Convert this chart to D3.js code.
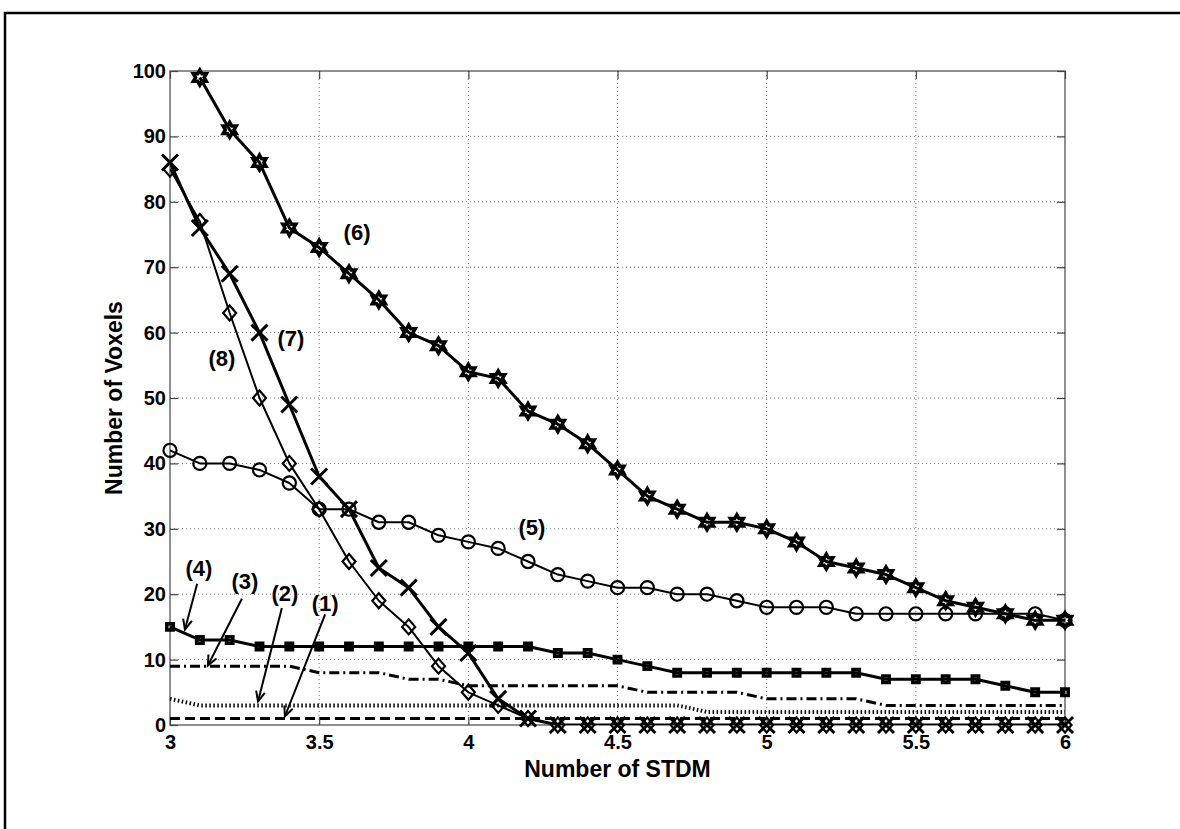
<!DOCTYPE html>
<html>
<head>
<meta charset="utf-8">
<title>Number of Voxels vs Number of STDM</title>
<style>
	body{
		margin:0;
		background:#fff;
	}
	svg text{
		font-family:"Liberation Sans", Arial, sans-serif;
		font-weight:bold;
	}
</style>
</head>
<body>
<div id="chart"></div>
<script src="https://d3js.org/d3.v7.min.js"></script>
<script type="text/javascript">

// x positions (number of STDM)
var stdm = [3.0,3.1,3.2,3.3,3.4,3.5,3.6,3.7,3.8,3.9,4.0,4.1,4.2,4.3,4.4,4.5,4.6,4.7,4.8,4.9,5.0,5.1,5.2,5.3,5.4,5.5,5.6,5.7,5.8,5.9,6.0];

// number of voxels per curve
var curve1 = [1,1,1,1,1,1,1,1,1,1,1,1,1,1,1,1,1,1,1,1,1,1,1,1,1,1,1,1,1,1,1];
var curve2 = [4,3,3,3,3,3,3,3,3,3,3,3,3,3,3,3,3,3,2,2,2,2,2,2,2,2,2,2,2,2,2];
var curve3 = [9,9,9,9,9,8,8,8,7,7,6,6,6,6,6,6,5,5,5,5,4,4,4,4,3,3,3,3,3,3,3];
var curve4 = [15,13,13,12,12,12,12,12,12,12,12,12,12,11,11,10,9,8,8,8,8,8,8,8,7,7,7,7,6,5,5];
var curve5 = [42,40,40,39,37,33,33,31,31,29,28,27,25,23,22,21,21,20,20,19,18,18,18,17,17,17,17,17,17,17,16];
var curve6 = [null,99,91,86,76,73,69,65,60,58,54,53,48,46,43,39,35,33,31,31,30,28,25,24,23,21,19,18,17,16,16];
var curve7 = [86,76,69,60,49,38,33,24,21,15,11,4,1,0,0,0,0,0,0,0,0,0,0,0,0,0,0,0,0,0,0];
var curve8 = [85,77,63,50,40,33,25,19,15,9,5,3,1,0,0,0,0,0,0,0,0,0,0,0,0,0,0,0,0,0,0];

var xTicks = [3,3.5,4,4.5,5,5.5,6];
var yTicks = [0,10,20,30,40,50,60,70,80,90,100];

// curve labels and arrows, in data units
var labels = [
	{t:'(1)', x:3.52, y:18.6},
	{t:'(2)', x:3.385, y:20.1},
	{t:'(3)', x:3.251, y:21.9},
	{t:'(4)', x:3.097, y:23.9},
	{t:'(5)', x:4.213, y:30.2},
	{t:'(6)', x:3.627, y:75.3},
	{t:'(7)', x:3.405, y:59.2},
	{t:'(8)', x:3.174, y:56.0}
];
var arrows = [
	{x1:3.52, y1:16.9, x2:3.385, y2:1.3},
	{x1:3.375, y1:17.9, x2:3.295, y2:3.6},
	{x1:3.241, y1:19.3, x2:3.127, y2:9.1},
	{x1:3.091, y1:21.6, x2:3.05, y2:14.6}
];

var W = 1180, H = 829,
	pLeft = 170, pRight = 1065, pTop = 71, pBottom = 725;

var x = d3.scaleLinear().domain([3,6]).range([pLeft,pRight]),
	y = d3.scaleLinear().domain([0,100]).range([pBottom,pTop]);

var svg = d3.select('#chart').append('svg').attr('width',W).attr('height',H);

// outer figure border (top and left only)
svg.append('path')
	.attr('d','M5,829 L5,13 L1180,13')
	.style('fill','none').style('stroke','#000').style('stroke-width',2.5);

svg.append('defs').append('clipPath').attr('id','plotclip')
	.append('rect').attr('x',pLeft).attr('y',pTop).attr('width',pRight-pLeft).attr('height',pBottom-pTop);

// grid
var grid = svg.append('g');
grid.selectAll('line.gx').data(xTicks.slice(1,-1)).enter().append('line')
	.attr('x1',function(d){return x(d);}).attr('x2',function(d){return x(d);})
	.attr('y1',pTop).attr('y2',pBottom)
	.style('stroke','#777').style('stroke-width',1).style('stroke-dasharray','1,3');
grid.selectAll('line.gy').data(yTicks.slice(1,-1)).enter().append('line')
	.attr('y1',function(d){return y(d);}).attr('y2',function(d){return y(d);})
	.attr('x1',pLeft).attr('x2',pRight)
	.style('stroke','#777').style('stroke-width',1).style('stroke-dasharray','1,3');

// axes, MATLAB style: ticks inside, box on
var axisColor = '#444';
function styleAxis(g, showText){
	g.select('.domain').remove();
	g.selectAll('.tick line').style('stroke',axisColor).style('stroke-width',1.2);
	g.selectAll('.tick text').style('font-size','20px').style('fill','#000');
	if(!showText) g.selectAll('.tick text').remove();
}
svg.append('g').attr('transform','translate(0,'+pBottom+')')
	.call(d3.axisBottom(x).tickValues(xTicks).tickFormat(d3.format('')).tickSizeInner(-8).tickPadding(10))
	.call(styleAxis,true);
svg.append('g').attr('transform','translate(0,'+pTop+')')
	.call(d3.axisTop(x).tickValues(xTicks).tickSizeInner(-8))
	.call(styleAxis,false);
svg.append('g').attr('transform','translate('+pLeft+',0)')
	.call(d3.axisLeft(y).tickValues(yTicks).tickSizeInner(-8).tickPadding(4))
	.call(styleAxis,true);
svg.append('g').attr('transform','translate('+pRight+',0)')
	.call(d3.axisRight(y).tickValues(yTicks).tickSizeInner(-8))
	.call(styleAxis,false);
svg.append('rect').attr('x',pLeft).attr('y',pTop).attr('width',pRight-pLeft).attr('height',pBottom-pTop)
	.style('fill','none').style('stroke',axisColor).style('stroke-width',1.2);

// axis titles
svg.append('text').attr('x',(pLeft+pRight)/2).attr('y',777).attr('text-anchor','middle')
	.style('font-size','23px').text('Number of STDM');
svg.append('text').attr('transform','translate(122,'+((pTop+pBottom)/2)+') rotate(-90)').attr('text-anchor','middle')
	.style('font-size','23px').text('Number of Voxels');

// markers
function hexagram(r){
	var p = [];
	for(var i=0;i<12;i++){
		var a = -Math.PI/2 + i*Math.PI/6, rr = i%2 ? r/Math.sqrt(3) : r;
		p.push([rr*Math.cos(a), rr*Math.sin(a)]);
	}
	return 'M'+p.join('L')+'Z';
}
var markers = {
	square: 'M-3.2,-3.2L3.2,-3.2L3.2,3.2L-3.2,3.2Z',
	circle: d3.symbol(d3.symbolCircle, 135)(),
	star: hexagram(7.5),
	cross: 'M-8,-8L8,8M-8,8L8,-8',
	diamond: 'M0,-7.5L6.5,0L0,7.5L-6.5,0Z'
};

var series = [
	{v:curve1, w:3, dash:'10,5'},
	{v:curve2, w:4, dash:'1.5,2.5'},
	{v:curve3, w:3, dash:'10,4,2,4'},
	{v:curve4, w:3, mark:'square', mw:3.5},
	{v:curve5, w:2, mark:'circle', mw:2.2},
	{v:curve6, w:3, mark:'star', mw:3.5},
	{v:curve8, w:2, mark:'diamond', mw:2.2},
	{v:curve7, w:3, mark:'cross', mw:3}
];

var line = d3.line()
	.defined(function(d){return d[1] !== null;})
	.x(function(d){return x(d[0]);})
	.y(function(d){return y(d[1]);});

series.forEach(function(s){
	var pts = stdm.map(function(d,i){return [d, s.v[i]];});
	svg.append('path').datum(pts)
		.attr('clip-path','url(#plotclip)')
		.attr('d',line)
		.style('fill','none').style('stroke','#000')
		.style('stroke-width',s.w)
		.style('stroke-dasharray',s.dash || null)
		.style('stroke-linejoin','round');
	if(s.mark){
		svg.append('g').selectAll('path').data(pts.filter(function(d){return d[1] !== null;}))
			.enter().append('path')
			.attr('transform',function(d){return 'translate('+x(d[0])+','+y(d[1])+')';})
			.attr('d',markers[s.mark])
			.style('fill','none').style('stroke','#000').style('stroke-width',s.mw)
			.style('stroke-linejoin','miter');
	}
});

// curve labels
svg.append('g').selectAll('text').data(labels).enter().append('text')
	.attr('x',function(d){return x(d.x);})
	.attr('y',function(d){return y(d.y);})
	.attr('dy','0.35em')
	.attr('text-anchor','middle')
	.style('font-size','22px')
	.text(function(d){return d.t;});

// arrows
var ag = svg.append('g').style('stroke','#000').style('stroke-width',2).style('fill','none');
arrows.forEach(function(a){
	var x1 = x(a.x1), y1 = y(a.y1), x2 = x(a.x2), y2 = y(a.y2),
		ang = Math.atan2(y2-y1, x2-x1), hl = 11, spread = 0.42;
	ag.append('line').attr('x1',x1).attr('y1',y1).attr('x2',x2).attr('y2',y2);
	ag.append('path').attr('d',
		'M'+(x2-hl*Math.cos(ang-spread))+','+(y2-hl*Math.sin(ang-spread))+
		'L'+x2+','+y2+
		'L'+(x2-hl*Math.cos(ang+spread))+','+(y2-hl*Math.sin(ang+spread)));
});

</script>
</body>
</html>
